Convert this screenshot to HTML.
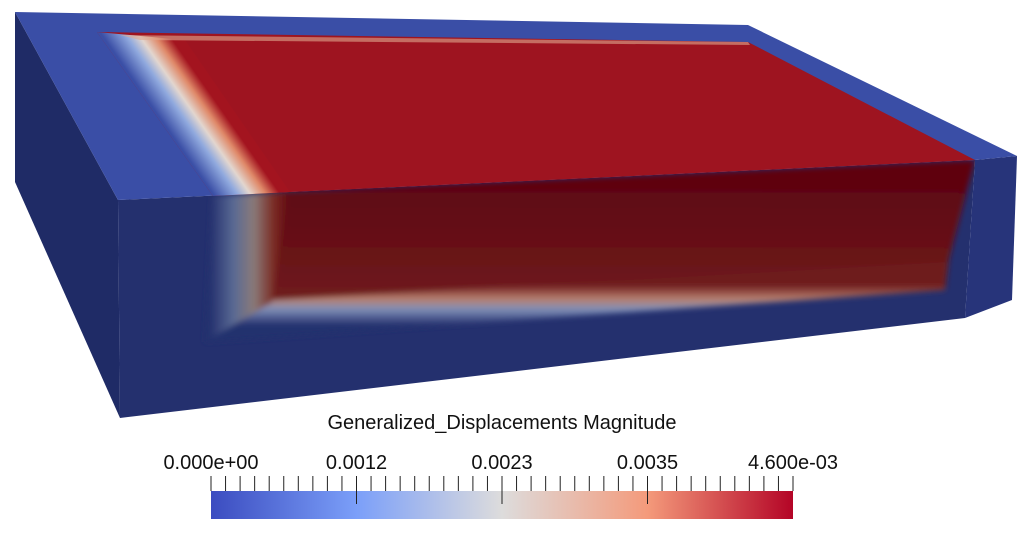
<!DOCTYPE html>
<html><head><meta charset="utf-8"><style>
html,body{margin:0;padding:0;background:#fff;}
svg{display:block;font-family:"Liberation Sans",sans-serif;}
</style></head><body>
<svg width="1027" height="536" viewBox="0 0 1027 536">
<defs>
<linearGradient id="lcut" gradientUnits="userSpaceOnUse" x1="100" y1="32" x2="145" y2="0.5">
<stop offset="0" stop-color="#3b4fa6"/><stop offset="0.35" stop-color="#90a9de"/><stop offset="0.55" stop-color="#e2d6cf"/><stop offset="0.78" stop-color="#df8868"/><stop offset="1" stop-color="#a3141f"/></linearGradient>
<linearGradient id="lband" gradientUnits="userSpaceOnUse" x1="210" y1="0" x2="290" y2="0">
<stop offset="0" stop-color="#24306e"/><stop offset="0.3" stop-color="#5a6a94"/><stop offset="0.55" stop-color="#8a7a78"/><stop offset="0.8" stop-color="#7a2a22"/><stop offset="1" stop-color="#620813"/></linearGradient>
<linearGradient id="fcut" gradientUnits="userSpaceOnUse" x1="0" y1="185" x2="0" y2="290">
<stop offset="0" stop-color="#5e0511"/><stop offset="1" stop-color="#6e1a1c"/></linearGradient>
<linearGradient id="bfade" gradientUnits="userSpaceOnUse" x1="0" y1="285" x2="0" y2="325">
<stop offset="0" stop-color="#6e1a1c"/><stop offset="0.35" stop-color="#b8806e"/><stop offset="0.6" stop-color="#8090b8"/><stop offset="1" stop-color="#24306e"/></linearGradient>
<linearGradient id="cbar" x1="0" y1="0" x2="1" y2="0">
<stop offset="0" stop-color="#3b4cc0"/><stop offset="0.25" stop-color="#7b9ff9"/><stop offset="0.5" stop-color="#dddcdc"/><stop offset="0.75" stop-color="#f49a7b"/><stop offset="1" stop-color="#b40426"/></linearGradient>
<filter id="soft" x="-10%" y="-10%" width="120%" height="120%"><feGaussianBlur stdDeviation="3"/></filter>
<clipPath id="frontclip"><polygon points="118,200 975,160 965,318 120,418"/></clipPath>
</defs>
<g>
<polygon points="15,12 118,200 120,418 15,182" fill="#1f2b66"/>
<polygon points="118,200 975,160 965,318 120,418" fill="#24306e"/>
<polygon points="975,160 1017,156 1012,300 965,318" fill="#27347a"/>
<polygon points="15,12 748,25 1017,156 975,160 118,200" fill="#3a4ea6"/>
<g clip-path="url(#frontclip)">
<g filter="url(#soft)">
<polygon points="268,280 950,248 945,290 205,342" fill="url(#bfade)"/>
<polygon points="280,192 975,160 948,262 272,300" fill="url(#fcut)"/>
<polygon points="212,196 288,192 272,302 205,342" fill="url(#lband)"/>
</g>
</g>
<polygon points="97,32 748,42 975,160 290,192 213,196" fill="#9e1420"/>
<polygon points="97,32 185,40 290,192 213,196" fill="url(#lcut)"/>
<polygon points="120,35 748,42 750,45 140,40" fill="#e0a890" opacity="0.6"/>
</g>
<text x="502" y="429" font-size="20" text-anchor="middle" fill="#111">Generalized_Displacements Magnitude</text>
<rect x="211" y="491" width="582" height="28" fill="url(#cbar)"/>
<g id="ticks"></g>
<script>
const tickLabels = ["0.000e+00","0.0012","0.0023","0.0035","4.600e-03"];
const labelValues = [0, 0.00115, 0.0023, 0.00345, 0.0046];
const minorStep = 0.000115;
const vmin = 0, vmax = 0.0046;
const x = v => 211 + (v - vmin) / (vmax - vmin) * 582;
const NS = "http://www.w3.org/2000/svg";
const g = document.getElementById('ticks');
for (let i = 0; i <= Math.round((vmax - vmin) / minorStep); i++) {
  const v = vmin + i * minorStep;
  const major = i % 10 === 0 && i > 0 && i < 40;
  const l = document.createElementNS(NS, 'line');
  
  
  l.setAttribute('x1', x(v)); l.setAttribute('x2', x(v));
  l.setAttribute('y1', 476); l.setAttribute('y2', major ? 504 : 491);
  l.setAttribute('stroke', '#222'); l.setAttribute('stroke-width', '1');
  g.appendChild(l);
}
tickLabels.forEach((t, i) => {
  const tx = document.createElementNS(NS, 'text');
  
  
  tx.setAttribute('x', x(labelValues[i]));
  tx.setAttribute('y', 469);
  tx.setAttribute('font-size', '20');
  tx.setAttribute('fill', '#111');
  tx.setAttribute('text-anchor', 'middle');
  tx.textContent = t;
  g.appendChild(tx);
});
</script>
</svg>
</body></html>
